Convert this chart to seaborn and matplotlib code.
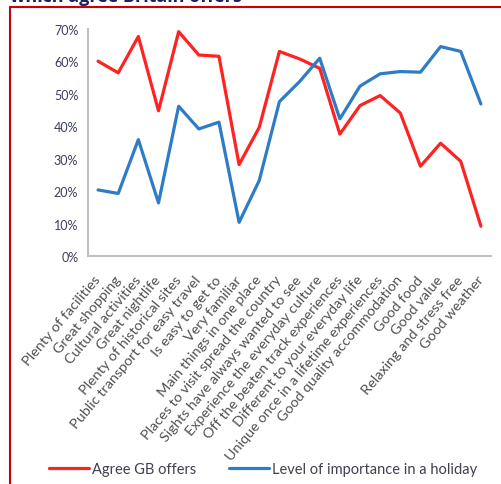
import numpy as np
import pandas as pd
import matplotlib
matplotlib.use("Agg")
import matplotlib.pyplot as plt
from matplotlib.lines import Line2D
import seaborn as sns

# chart data
categories = [
    "Plenty of facilities", "Great shopping", "Cultural activities", "Great nightlife",
    "Plenty of historical sites", "Public transport for easy travel", "Is easy to get to",
    "Very familiar", "Main things in one place", "Places to visit spread the country",
    "Sights have always wanted to see", "Experience the everyday culture",
    "Off the beaten track experiences", "Different to your everyday life",
    "Unique once in a lifetime experiences", "Good quality accommodation",
    "Good food", "Good value", "Relaxing and stress free", "Good weather",
]
agree_gb = [60.1, 56.5, 67.7, 44.8, 69.2, 62.0, 61.6, 28.2, 39.7, 63.1,
            60.8, 57.9, 37.6, 46.4, 49.5, 44.1, 27.7, 34.8, 29.2, 9.2]
importance = [20.4, 19.3, 35.9, 16.4, 46.2, 39.2, 41.3, 10.4, 23.3, 47.6,
              53.8, 61.0, 42.3, 52.4, 56.2, 56.9, 56.7, 64.6, 63.1, 46.9]
series_names = ["Agree GB offers", "Level of importance in a holiday"]
series_colors = ["#FF2222", "#2E7CC6"]
y_ticks = [0, 10, 20, 30, 40, 50, 60, 70]

sns.set_style("white")
plt.rcParams["font.family"] = ["Lato", "DejaVu Sans"]

pos = np.arange(len(categories))
df = pd.concat([
    pd.DataFrame({"pos": pos, "value": agree_gb, "series": series_names[0]}),
    pd.DataFrame({"pos": pos, "value": importance, "series": series_names[1]}),
])

fig = plt.figure(figsize=(5.01, 4.85), dpi=100)
ax = fig.add_axes([0.1756, 0.470, 0.8044, 0.468])

sns.lineplot(data=df, x="pos", y="value", hue="series", hue_order=series_names,
             palette=series_colors, linewidth=2.3, legend=False, ax=ax)

ax.set_xlim(-0.5, len(categories) - 0.5)
ax.set_ylim(0, 70)
ax.set_yticks(y_ticks)
ax.set_yticklabels([f"{t}%" for t in y_ticks], fontsize=9, color="#3b3f5c")
ax.set_xticks(pos)
ax.set_xticklabels(categories, rotation=50, ha="right", va="center",
                   rotation_mode="anchor", fontsize=10.4, color="#505050")
ax.set_xticks(np.arange(len(categories) + 1) - 0.5, minor=True)
ax.tick_params(axis="x", which="major", length=0, pad=15)
ax.tick_params(axis="x", which="minor", length=4, width=1, color="#BFBFBF", direction="out")
ax.tick_params(axis="y", length=4, width=1, color="#BFBFBF", direction="out", pad=3)
ax.set_xlabel("")
ax.set_ylabel("")
for side in ["top", "right"]:
    ax.spines[side].set_visible(False)
for side in ["left", "bottom"]:
    ax.spines[side].set_color("#BFBFBF")
    ax.spines[side].set_linewidth(1.5)

handles = [Line2D([], [], color=c, lw=2.3) for c in series_colors]
fig.legend(handles, series_names, loc="center", bbox_to_anchor=(0.525, 0.031),
           ncol=2, frameon=False, fontsize=10.5, handlelength=2.75, handletextpad=0.2,
           columnspacing=2.2, labelcolor="#404050")

# red frame of the screenshot and clipped title
fig.add_artist(Line2D([10 / 501, 10 / 501], [0, 1 - 8 / 485], color="#CC0000", lw=1.5))
fig.add_artist(Line2D([10 / 501, 1], [1 - 8 / 485, 1 - 8 / 485], color="#CC0000", lw=1.5))
fig.text(10 / 501, 1 - 6 / 485, "which agree Britain offers", fontsize=13,
         fontweight="bold", color="#1A2060", ha="left", va="bottom",
         family=["Open Sans", "DejaVu Sans"])

fig.savefig("out.png", dpi=100)
